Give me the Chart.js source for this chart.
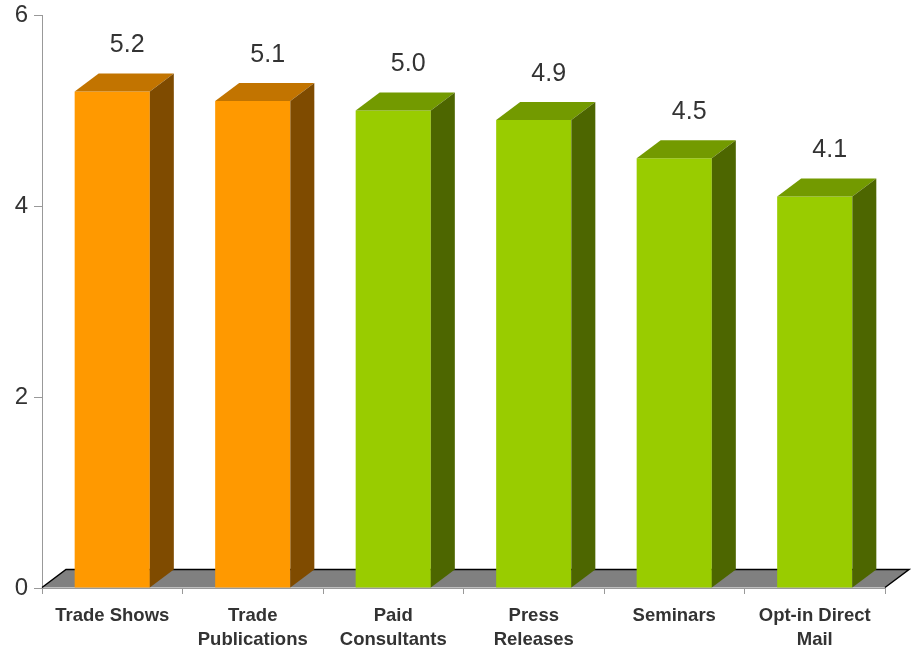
<!DOCTYPE html>
<html>
<head>
<meta charset="utf-8">
<script src="https://cdn.jsdelivr.net/npm/chart.js@4/dist/chart.umd.min.js"></script>
<style>
  body { margin: 0; background: #fff; }
  #wrap { width: 917px; height: 650px; }
</style>
</head>
<body>
<div id="wrap"><canvas id="channelChart" width="917" height="650"></canvas></div>
<script>
// categories (split into label lines) and scores
const categories = [
    ['Trade Shows'],
    ['Trade', 'Publications'],
    ['Paid', 'Consultants'],
    ['Press', 'Releases'],
    ['Seminars'],
    ['Opt-in Direct', 'Mail']
];
const scores = [5.2, 5.1, 5.0, 4.9, 4.5, 4.1];
const yTicks = [0, 2, 4, 6];

// face colours: first two bars orange, the rest green
const frontColors = ['#FF9900', '#FF9900', '#99CC00', '#99CC00', '#99CC00', '#99CC00'];
const topColors   = ['#C27400', '#C27400', '#739A00', '#739A00', '#739A00', '#739A00'];
const sideColors  = ['#7F4B00', '#7F4B00', '#4D6600', '#4D6600', '#4D6600', '#4D6600'];

const DEPTH_X = 24;
const DEPTH_Y = 18;
const TEXT = '#333333';
const AXIS = '#999999';

function poly(ctx, pts, fill) {
    ctx.beginPath();
    ctx.moveTo(pts[0][0], pts[0][1]);
    for (let i = 1; i < pts.length; i++) ctx.lineTo(pts[i][0], pts[i][1]);
    ctx.closePath();
    ctx.fillStyle = fill;
    ctx.fill();
}

// floor under the bars, plus top / side faces and value labels
const bar3d = {
    id: 'bar3d',
    beforeDatasetsDraw(chart) {
        const ctx = chart.ctx;
        const area = chart.chartArea;
        const base = chart.scales.y.getPixelForValue(0) - 0.5;
        ctx.save();
        poly(ctx, [
            [area.left, base],
            [area.left + DEPTH_X, base - DEPTH_Y],
            [area.right + DEPTH_X, base - DEPTH_Y],
            [area.right, base]
        ], '#808080');
        ctx.beginPath();
        ctx.moveTo(area.left, base);
        ctx.lineTo(area.left + DEPTH_X, base - DEPTH_Y);
        ctx.lineTo(area.right + DEPTH_X, base - DEPTH_Y);
        ctx.lineTo(area.right, base);
        ctx.strokeStyle = '#000';
        ctx.lineWidth = 1.5;
        ctx.stroke();
        ctx.restore();
    },
    afterDatasetsDraw(chart) {
        const ctx = chart.ctx;
        const meta = chart.getDatasetMeta(0);
        const values = chart.data.datasets[0].data;
        ctx.save();
        meta.data.forEach((bar, i) => {
            const p = bar.getProps(['x', 'y', 'base', 'width'], true);
            const x0 = p.x - p.width / 2;
            const x1 = p.x + p.width / 2;
            poly(ctx, [
                [x0, p.y], [x0 + DEPTH_X, p.y - DEPTH_Y],
                [x1 + DEPTH_X, p.y - DEPTH_Y], [x1, p.y]
            ], topColors[i]);
            poly(ctx, [
                [x1, p.y], [x1 + DEPTH_X, p.y - DEPTH_Y],
                [x1 + DEPTH_X, p.base - DEPTH_Y], [x1, p.base]
            ], sideColors[i]);

            ctx.fillStyle = TEXT;
            ctx.font = '25px "Liberation Sans", Arial, sans-serif';
            ctx.textAlign = 'center';
            ctx.textBaseline = 'middle';
            ctx.fillText(values[i].toFixed(1), p.x + 15, p.y - DEPTH_Y - 28);
        });
        ctx.restore();
    }
};

new Chart(document.getElementById('channelChart'), {
    type: 'bar',
    data: {
        labels: categories,
        datasets: [{
            data: scores,
            backgroundColor: frontColors,
            borderWidth: 0,
            barPercentage: 0.535,
            categoryPercentage: 1
        }]
    },
    options: {
        responsive: false,
        animation: false,
        layout: { padding: { top: 15, right: 32, left: 0, bottom: 0 } },
        plugins: {
            legend: { display: false },
            tooltip: { enabled: false }
        },
        scales: {
            x: {
                grid: {
                    offset: true,
                    drawOnChartArea: false,
                    color: AXIS,
                    tickLength: 6
                },
                border: { color: AXIS, width: 1 },
                ticks: {
                    color: TEXT,
                    padding: 10,
                    maxRotation: 0,
                    font: { family: '"Liberation Sans", Arial, sans-serif', size: 18.5, weight: 'bold', lineHeight: 1.3 }
                },
                afterFit(scale) { scale.height = 62; }
            },
            y: {
                min: 0,
                max: 6,
                afterBuildTicks(scale) { scale.ticks = yTicks.map(v => ({ value: v })); },
                grid: {
                    drawOnChartArea: false,
                    color: AXIS,
                    tickLength: 8
                },
                border: { color: AXIS, width: 1 },
                ticks: {
                    color: TEXT,
                    padding: 6,
                    font: { family: '"Liberation Sans", Arial, sans-serif', size: 24 }
                },
                afterFit(scale) {
                    scale.width = 42;
                    scale.paddingTop = 0;
                    scale.paddingBottom = 0;
                }
            }
        }
    },
    plugins: [bar3d]
});
</script>
</body>
</html>
